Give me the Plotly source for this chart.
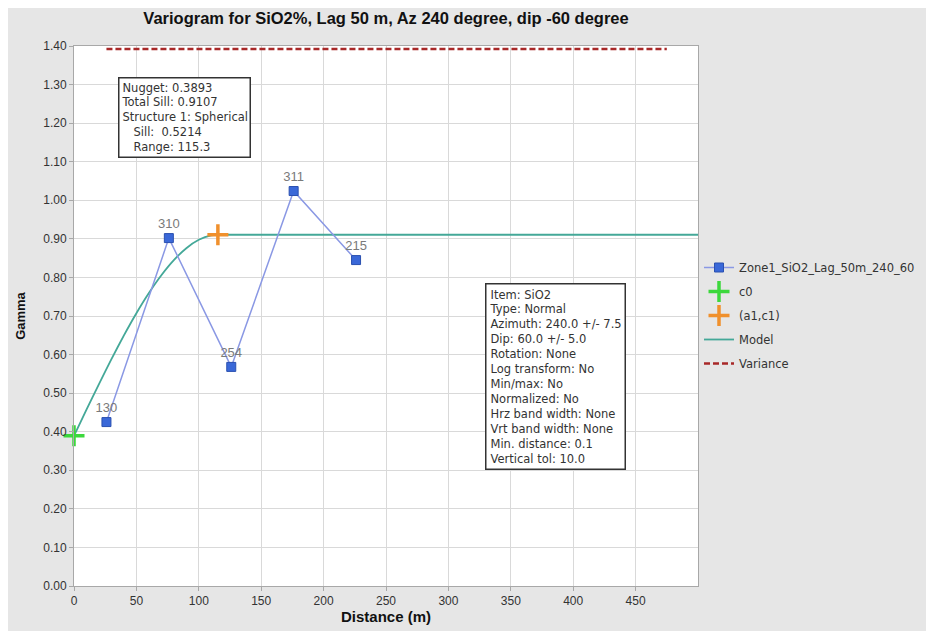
import plotly.graph_objects as go

# Experimental variogram
lag_dist = [26, 76, 126, 176, 226]
gamma = [0.425, 0.902, 0.568, 1.024, 0.845]
pairs = ["130", "310", "254", "311", "215"]

# Spherical model (nugget 0.3893, sill 0.5214, range 115.3)
model_dist = [0, 10, 20, 30, 40, 50, 60, 70, 80, 90, 100, 110, 115.3, 500]
model_gamma = [0.3893, 0.4570, 0.5236, 0.5882, 0.6497, 0.7072, 0.7596, 0.8058,
               0.8449, 0.8758, 0.8975, 0.9091, 0.9107, 0.9107]

c0_x, c0_y = [0], [0.3893]
a1c1_x, a1c1_y = [115.3], [0.9107]

var_x = [26, 475]
var_y = [1.392, 1.392]

x_ticks = [0, 50, 100, 150, 200, 250, 300, 350, 400, 450]
y_ticks = [0.0, 0.1, 0.2, 0.3, 0.4, 0.5, 0.6, 0.7, 0.8, 0.9, 1.0, 1.1, 1.2, 1.3, 1.4]

nugget_text = ("Nugget: 0.3893<br>Total Sill: 0.9107<br>Structure 1: Spherical<br>"
               "   Sill:  0.5214<br>   Range: 115.3")
item_text = ("Item: SiO2<br>Type: Normal<br>Azimuth: 240.0 +/- 7.5<br>Dip: 60.0 +/- 5.0<br>"
             "Rotation: None<br>Log transform: No<br>Min/max: No<br>Normalized: No<br>"
             "Hrz band width: None<br>Vrt band width: None<br>Min. distance: 0.1<br>Vertical tol: 10.0")

font = "Liberation Sans, Arial, sans-serif"
box_font = "DejaVu Sans, Verdana, sans-serif"

fig = go.Figure()
fig.add_trace(go.Scatter(
    x=model_dist, y=model_gamma, mode="lines", name="Model", legendrank=4, legendgroup="m",
    line=dict(color="#44a898", width=1.8, shape="spline", smoothing=0.6),
))
fig.add_trace(go.Scatter(
    x=var_x, y=var_y, mode="lines", name="Variance", legendrank=5, legendgroup="v",
    line=dict(color="#a82828", width=2.5, dash="6px,3px"),
))
fig.add_trace(go.Scatter(
    x=lag_dist, y=gamma, mode="lines+markers+text", text=pairs, legendrank=1, legendgroup="s",
    textposition="top center", textfont=dict(color="#7a7a7a", size=13),
    name="Zone1_SiO2_Lag_50m_240_60",
    line=dict(color="#8a98e4", width=1.5),
    marker=dict(symbol="square", size=9, color="#3a68d8", line=dict(color="#2a50b0", width=1)),
))
fig.add_trace(go.Scatter(
    x=c0_x, y=c0_y, mode="markers", name="c0", legendrank=2, legendgroup="c",
    marker=dict(symbol="cross-thin", size=15, color="#3cd83c", line=dict(width=3.5, color="#3cd83c")),
    cliponaxis=False,
))
fig.add_trace(go.Scatter(
    x=a1c1_x, y=a1c1_y, mode="markers", name="(a1,c1)", legendrank=3, legendgroup="a",
    marker=dict(symbol="cross-thin", size=15, color="#f0902c", line=dict(width=3.5, color="#f0902c")),
))

W, H = 934, 631
fig.update_layout(
    width=W, height=H,
    margin=dict(l=66, r=244, t=38, b=53, autoexpand=False),
    paper_bgcolor="#e6e6e6", plot_bgcolor="white",
    font=dict(family=font, size=12, color="#333333"),
    title=dict(text="<b>Variogram for SiO2%, Lag 50 m, Az 240 degree, dip -60 degree</b>",
               x=0.5, xref="paper", xanchor="center", y=1 - 10 / H, yref="container",
               yanchor="middle", font=dict(size=16.5, color="#111111")),
    xaxis=dict(range=[0, 500], tickvals=x_ticks, showgrid=True, gridcolor="#d9d9d9",
               showline=True, linecolor="#a8a8a8", mirror=True, zeroline=False, automargin=False,
               ticks="outside", ticklen=4, tickcolor="#a8a8a8",
               tickfont=dict(size=12, color="#333333"),
               title=dict(text="<b>Distance (m)</b>", font=dict(size=15, color="#111111"), standoff=0)),
    yaxis=dict(range=[0, 1.4], tickvals=y_ticks, tickformat=".2f", showgrid=True, gridcolor="#d9d9d9",
               showline=True, linecolor="#a8a8a8", mirror=True, zeroline=False, automargin=False,
               ticks="outside", ticklen=4, tickcolor="#a8a8a8",
               tickfont=dict(size=12, color="#333333"),
               title=dict(text="<b>Gamma</b>", font=dict(size=13, color="#111111"), standoff=14)),
    legend=dict(xref="container", yref="container", x=691 / W, xanchor="left",
                y=1 - 245 / H, yanchor="top", bgcolor="rgba(0,0,0,0)",
                font=dict(family=box_font, size=11.5, color="#333333"), tracegroupgap=5, itemwidth=30),
    showlegend=True,
)
fig.add_annotation(xref="paper", yref="paper", x=0.0705, y=0.9426, xanchor="left", yanchor="top",
                   text=nugget_text, align="left", showarrow=False, bgcolor="white",
                   bordercolor="#333333", borderwidth=1.5, borderpad=2,
                   font=dict(family=box_font, size=11.5, color="#333333"))
fig.add_annotation(xref="paper", yref="paper", x=0.659, y=0.561, xanchor="left", yanchor="top",
                   text=item_text, align="left", showarrow=False, bgcolor="white",
                   bordercolor="#333333", borderwidth=1.5, borderpad=3,
                   font=dict(family=box_font, size=11.5, color="#333333"))

fig.write_html("out.html")
